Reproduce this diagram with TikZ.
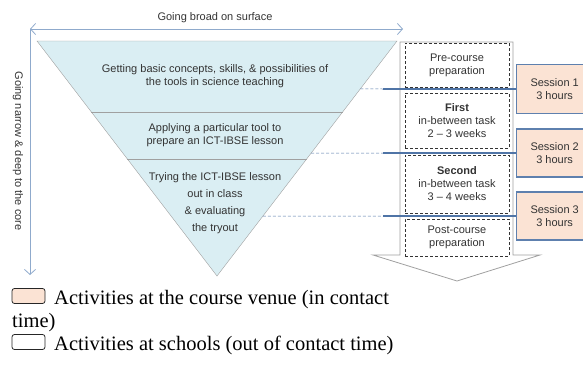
\documentclass[tikz,border=0pt]{standalone}
\usepackage{fontspec}
\setmainfont{Liberation Serif}
\newfontfamily\diagfont[Ligatures=TeX]{Liberation Sans}
\usetikzlibrary{calc, positioning}
\usetikzlibrary{arrows.meta}

\definecolor{bandblue}{HTML}{DAEEF3}
\definecolor{edgegray}{HTML}{A0A0A0}
\definecolor{axisblue}{HTML}{8FAACC}
\definecolor{linkblue}{HTML}{4F74A6}
\definecolor{sessfill}{HTML}{FBE3D4}
\definecolor{sessedge}{HTML}{5E80AE}

\begin{document}
\begin{tikzpicture}[x=1pt,y=-1pt,
  lbl/.style={font=\diagfont\fontsize{11}{13}\selectfont, text=black!80, align=center},
  task/.style={lbl, draw=black!80, densely dashed, minimum width=104pt, inner sep=0pt},
  session/.style={lbl, draw=sessedge, line width=1.3pt, fill=sessfill,
    minimum width=76pt, anchor=west, inner sep=0pt},
  link/.style={linkblue, line width=1.5pt},
  guide/.style={linkblue, densely dashed, line width=0.5pt},
  axis/.style={axisblue, line width=0.8pt},
  legend/.style={font=\fontsize{20.5}{23}\selectfont, anchor=base west, inner sep=0pt},
  legbox/.style={draw=black!85, line width=0.8pt, rounded corners=2.5pt, minimum width=33pt,
    minimum height=15pt, inner sep=0pt}
]
\useasboundingbox (0,0) rectangle (583,383);

% funnel
\coordinate (TL) at (37,41);
\coordinate (TR) at (397,41);
\coordinate (V) at (217,276);

\fill[bandblue] (TL) -- (TR) -- (V) -- cycle;
\draw[edgegray] ($(TL)!0.302!(V)$) -- ($(TR)!0.302!(V)$);
\draw[edgegray] ($(TL)!0.502!(V)$) -- ($(TR)!0.502!(V)$);
\draw[edgegray] (TL) -- (TR) -- (V) -- cycle;

% axes
\coordinate (corner) at (30,29);
\coordinate (wide) at (403,29);
\coordinate (deep) at (30,275);
\draw[axis, {Straight Barb[length=5pt,width=11pt]}-{Straight Barb[length=5pt,width=11pt]}]
    (corner) -- (wide);
\draw[axis, -{Straight Barb[length=5pt,width=11pt]}] (corner) -- (deep);

\node[lbl] (broad) at (215,18) {Going broad on surface};
\node[lbl, rotate=-90] (narrow) at (18,151) {Going narrow \& deep to the core};

\node[lbl] (band1) at (215,76)
    {Getting basic concepts, skills, \& possibilities of\\the tools in science teaching};
\node[lbl] (band2) at (215,135) {Applying a particular tool to\\prepare an ICT-IBSE lesson};
\node[lbl, font=\diagfont\fontsize{11}{16.8}\selectfont] (band3) at (215,203)
    {Trying the ICT-IBSE lesson\\out in class\\\& evaluating\\the tryout};

% big arrow with the tasks
\draw[edgegray, line width=0.8pt, fill=white] (400,42) -- (513,42) -- (513,255) -- (540,255)
    -- (457,281) -- (373,255) -- (400,255) -- cycle;

\node[task, minimum height=44pt] (pre) at (457,65) {Pre-course\\preparation};
\node[task, minimum height=55pt] (first) at (457,120.5)
    {\textbf{First}\\in-between task\\2 -- 3 weeks};
\node[task, minimum height=58pt] (second) at (457,184)
    {\textbf{Second}\\in-between task\\3 -- 4 weeks};
\node[task, minimum height=37pt] (post) at (457,237.5) {Post-course\\preparation};

% sessions
\node[session, minimum height=49pt] (s1) at (516,89) {Session 1\\3 hours};
\node[session, minimum height=48pt] (s2) at (516,153) {Session 2\\3 hours};
\node[session, minimum height=48pt] (s3) at (516,216) {Session 3\\3 hours};

\coordinate (g1) at ($(TR)!0.204!(V)$);
\coordinate (g2) at ($(TR)!0.477!(V)$);
\coordinate (g3) at ($(TR)!0.745!(V)$);
\coordinate (k1) at (383,89);
\coordinate (k2) at (383,153);
\coordinate (k3) at (383,216);
\draw[guide] (g1) -- (k1);
\draw[guide] (g2) -- (k2);
\draw[guide] (g3) -- (k3);
\draw[link] (k1) -- (s1.west);
\draw[link] (k2) -- (s2.west);
\draw[link] (k3) -- (s3.west);

% legend
\node[legbox, fill=sessfill] (legvenue) at (28.5,296) {};
\node[legend] (venuetxt) at (54,304) {Activities at the course venue (in contact};
\node[legend] (venuetxt2) at (12,327) {time)};
\node[legbox, fill=white] (legschool) at (28.5,342) {};
\node[legend] (schooltxt) at (54,350) {Activities at schools (out of contact time)};
\end{tikzpicture}
\end{document}
